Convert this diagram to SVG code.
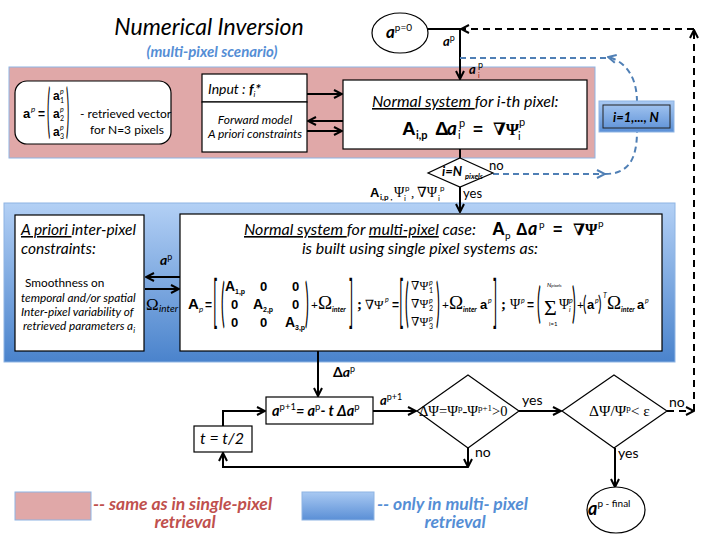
<svg xmlns="http://www.w3.org/2000/svg" width="703" height="535" viewBox="0 0 703 535">
<defs>
<linearGradient id="blueGrad" x1="0" y1="0" x2="0" y2="1">
<stop offset="0" stop-color="#b3d0f5"/>
<stop offset="1" stop-color="#4a83cc"/>
</linearGradient>
<linearGradient id="blueGrad2" x1="0" y1="0" x2="0" y2="1">
<stop offset="0" stop-color="#a9c9f2"/>
<stop offset="1" stop-color="#5a8fd6"/>
</linearGradient>
<marker id="arr" viewBox="0 0 10 10" refX="9" refY="5" markerWidth="10" markerHeight="10" markerUnits="userSpaceOnUse" orient="auto">
<path d="M1,1 L9,5 L1,9" fill="none" stroke="#000" stroke-width="2"/>
</marker>
<marker id="arrB" viewBox="0 0 10 10" refX="9" refY="5" markerWidth="10" markerHeight="10" markerUnits="userSpaceOnUse" orient="auto">
<path d="M1,1 L9,5 L1,9" fill="none" stroke="#4f7fb5" stroke-width="2"/>
</marker>
</defs>
<style>
text{font-family:Lato,"Open Sans","Liberation Sans",sans-serif;fill:#000}
.it{font-style:italic}
.b{font-weight:bold}
.m{font-family:"Liberation Sans",Arial,sans-serif;font-weight:bold}
.g{font-family:"Liberation Serif","DejaVu Serif",serif}
.box{fill:#fff;stroke:#000;stroke-width:1.2}
.ln{fill:none;stroke:#000;stroke-width:2}
.dk{fill:none;stroke:#000;stroke-width:2;stroke-dasharray:7 5}
.db{fill:none;stroke:#4f7fb5;stroke-width:2;stroke-dasharray:6 4}
.u{text-decoration:underline}
</style>
<rect width="703" height="535" fill="#fff"/>

<!-- title -->
<g id="title">
<text x="209" y="35" class="it" font-size="23" text-anchor="middle">Numerical Inversion</text>
<text x="212" y="57" class="it b" font-size="15" text-anchor="middle" style="fill:#558ed5">(multi-pixel scenario)</text>
</g>

<!-- background bands -->
<g id="single-pixel-band">
<rect x="9" y="67" width="586" height="91" fill="#e0a8a8" stroke="#8eb4e3" stroke-width="1"/>
</g>
<g id="multi-pixel-band">
<rect x="4" y="203" width="671" height="159" fill="url(#blueGrad)" stroke="#8eb4e3" stroke-width="1"/>
</g>

<!-- connectors -->
<g id="connectors">
<path class="ln" d="M427,29 H460 V79" marker-end="url(#arr)"/>
<path class="ln" d="M307,94 H342" marker-end="url(#arr)"/>
<path class="ln" d="M344,121 H308" marker-end="url(#arr)"/>
<path class="ln" d="M307,131 H342" marker-end="url(#arr)"/>
<path class="ln" d="M460,149 V159"/>
<path class="ln" d="M460,187 V212" marker-end="url(#arr)"/>
<path class="ln" d="M180,277 H146" marker-end="url(#arr)"/>
<path class="ln" d="M145,289 H179" marker-end="url(#arr)"/>
<path class="ln" d="M318,351 V396" marker-end="url(#arr)"/>
<path class="ln" d="M373,411 H416" marker-end="url(#arr)"/>
<path class="ln" d="M519,411 H561" marker-end="url(#arr)"/>
<path class="ln" d="M468,448 V467" marker-end="url(#arr)"/>
<path class="ln" d="M468,467 H223 V453" marker-end="url(#arr)"/>
<path class="ln" d="M223,426 V411 H265" marker-end="url(#arr)"/>
<path class="ln" d="M615,448 V487" marker-end="url(#arr)"/>
<path class="dk" d="M667,411 H694" marker-end="url(#arr)"/>
<path class="dk" d="M694,411 V30" marker-end="url(#arr)"/>
<path class="dk" d="M694,29 H461" marker-end="url(#arr)"/>
<path class="db" d="M460,58 H607"/>
<path class="db" d="M637,102 C637,80 628,62 608,57" marker-end="url(#arrB)"/>
<path class="db" d="M493,174 H605" marker-end="url(#arrB)"/>
<path class="db" d="M605,174 C628,174 637,160 637,131"/>
<text x="443" y="46" class="it b" font-size="13">a<tspan font-size="9" font-weight="normal" font-style="normal" dy="-5">p</tspan></text>
<text x="469" y="74" class="it b" font-size="13">a</text>
<text x="478" y="68" font-size="9">p</text>
<text x="478" y="78" font-size="7" style="fill:#800">i</text>
<text x="489" y="170" font-size="13">no</text>
<text x="463" y="198" font-size="13">yes</text>
<text x="370" y="197" class="m" font-size="13">A</text>
<text x="380" y="200" font-size="8" class="b">i,p ,</text>
<text x="394" y="197" class="g" font-size="14">Ψ</text>
<text x="405" y="191" font-size="8">p</text>
<text x="404" y="201" font-size="8">i</text>
<text x="411" y="197" class="g" font-size="13">,</text>
<text x="417" y="197" class="g" font-size="14">∇Ψ</text>
<text x="440" y="191" font-size="8">p</text>
<text x="438" y="201" font-size="8">i</text>
<text x="160" y="265" class="it b" font-size="14">a<tspan font-size="9" font-weight="normal" font-style="normal" dy="-5">p</tspan></text>
<text x="146" y="310" class="g" font-size="17">Ω</text>
<text x="159" y="312" class="it" font-size="10">inter</text>
<text x="333" y="377" class="b" font-size="14">Δ<tspan class="it">a</tspan><tspan font-size="9" font-weight="normal" dy="-5">p</tspan></text>
<text x="380" y="405" class="it b" font-size="13">a<tspan font-size="9" font-weight="normal" font-style="normal" dy="-5">p+1</tspan></text>
<text x="522" y="405" font-size="14">yes</text>
<text x="475" y="457" font-size="14">no</text>
<text x="669" y="407" font-size="14">no</text>
<text x="618" y="458" font-size="14">yes</text>
</g>

<!-- nodes -->
<g id="start">
<ellipse cx="400" cy="33" rx="28" ry="20" class="box"/>
<text x="386" y="38" class="it b" font-size="17">a<tspan font-size="10" font-weight="normal" font-style="normal" dy="-7">p=0</tspan></text>
</g>

<g id="retrieved-vector">
<rect x="15" y="81" width="156" height="63" rx="12" class="box"/>
<text x="23" y="118" class="m" font-size="13">a</text>
<text x="31" y="112" class="it" font-size="8">p</text>
<text x="38" y="118" class="m" font-size="12">=</text>
<text transform="translate(47,131) scale(1,4.8)" font-family="Liberation Sans" font-size="12">(</text>
<text transform="translate(66,131) scale(1,4.8)" font-family="Liberation Sans" font-size="12">)</text>
<text x="53" y="100" class="m" font-size="12">a</text>
<text x="60" y="94" class="it" font-size="7">p</text>
<text x="60" y="103" font-size="7">1</text>
<text x="53" y="118" class="m" font-size="12">a</text>
<text x="60" y="112" class="it" font-size="7">p</text>
<text x="60" y="121" font-size="7">2</text>
<text x="53" y="136" class="m" font-size="12">a</text>
<text x="60" y="130" class="it" font-size="7">p</text>
<text x="60" y="139" font-size="7">3</text>
<text x="80" y="118" font-size="12">- retrieved vector</text>
<text x="90" y="134" font-size="12">for N=3 pixels</text>
</g>

<g id="input">
<rect x="202" y="74" width="105" height="28" class="box"/>
<text x="208" y="94" class="it" font-size="14">Input : <tspan class="b">f</tspan><tspan font-size="8" dy="3">i</tspan><tspan class="b" dy="-3">*</tspan></text>
</g>
<g id="forward-model">
<rect x="202" y="102" width="105" height="50" class="box"/>
<text x="255" y="124" class="it" font-size="12" text-anchor="middle">Forward model</text>
<text x="255" y="138" class="it" font-size="12" text-anchor="middle">A priori constraints</text>
</g>

<g id="normal-single">
<rect x="343" y="80" width="244" height="69" class="box"/>
<text x="372" y="107" class="it" font-size="16"><tspan class="u">Normal system </tspan>for  i-th pixel:</text>
<text x="402" y="135" class="m" font-size="19">A</text>
<text x="416" y="139" class="b" font-size="11">i,p</text>
<text x="435" y="135" class="m" font-size="19">Δ</text>
<text x="447" y="135" class="b it" font-size="19">a</text>
<text x="459" y="127" font-size="11">p</text>
<text x="458" y="139" font-size="11">i</text>
<text x="473" y="135" class="m" font-size="17">=</text>
<text x="493" y="135" class="g b" font-size="17">∇Ψ</text>
<text x="519" y="126" font-size="11">p</text>
<text x="518" y="140" font-size="11">i</text>
</g>

<g id="loop-pixels">
<rect x="599" y="101" width="75" height="31" fill="url(#blueGrad2)" stroke="#8eb4e3" stroke-width="1"/>
<rect x="603" y="105" width="67" height="23" fill="none" stroke="#222" stroke-width="1"/>
<text x="636" y="122" class="it b" font-size="13" text-anchor="middle">i=1,..., N</text>
</g>

<g id="check-pixel">
<polygon points="460,158 493,173 460,187 428,173" class="box"/>
<text x="442" y="176" class="it b" font-size="13">i=N</text>
<text x="465" y="179" class="it b" font-size="7.5">pixels</text>
</g>

<g id="inter-pixel-constraints">
<rect x="15" y="215" width="129" height="136" class="box"/>
<text x="21" y="235" class="it" font-size="15.5"><tspan class="u">A priori </tspan> inter-pixel</text>
<text x="21" y="254" class="it" font-size="15.5">constraints:</text>
<text x="25" y="287" font-size="11.8">Smoothness on</text>
<text x="21" y="302" class="it" font-size="11.8">temporal and/or spatial</text>
<text x="21" y="316" class="it" font-size="11.8">Inter-pixel variability of</text>
<text x="23" y="330" class="it" font-size="11.8">retrieved parameters a<tspan font-size="8" dy="3">i</tspan></text>
</g>

<g id="normal-multi">
<rect x="180" y="214" width="482" height="137" class="box"/>
<text x="244" y="235" class="it" font-size="16"><tspan class="u">Normal system </tspan>for  <tspan class="u">multi-pixel</tspan> case:</text>
<text x="492" y="235" class="m" font-size="18">A</text>
<text x="505" y="239" font-size="10">p</text>
<text x="516" y="235" class="m" font-size="16">Δ</text>
<text x="528" y="235" class="b it" font-size="18">a</text>
<text x="539" y="228" font-size="10">p</text>
<text x="553" y="235" class="m" font-size="16">=</text>
<text x="573" y="235" class="g b" font-size="16">∇Ψ</text>
<text x="598" y="227" font-size="10">p</text>
<text x="420" y="254" class="it" font-size="16" text-anchor="middle">is built using single pixel systems as:</text>

<!-- A_p -->
<text x="188" y="309" class="m" font-size="15">A</text>
<text x="199" y="312" class="it" font-size="8">p</text>
<text x="205" y="309" class="m" font-size="12">=</text>
<text transform="translate(213,321) scale(1,4)" font-family="Liberation Sans" font-size="14">[</text>
<text transform="translate(221,321) scale(1,3.8)" font-family="Liberation Sans" font-size="14">(</text>
<text x="225" y="291" class="m" font-size="14">A</text>
<text x="235" y="294" class="m" font-size="7">1,p</text>
<text x="260" y="291" class="m" font-size="13">0</text>
<text x="292" y="291" class="m" font-size="13">0</text>
<text x="231" y="309" class="m" font-size="13">0</text>
<text x="253" y="309" class="m" font-size="14">A</text>
<text x="263" y="312" class="m" font-size="7">2,p</text>
<text x="292" y="309" class="m" font-size="13">0</text>
<text x="231" y="327" class="m" font-size="13">0</text>
<text x="260" y="327" class="m" font-size="13">0</text>
<text x="285" y="327" class="m" font-size="14">A</text>
<text x="295" y="330" class="m" font-size="7">3,p</text>
<text transform="translate(305,321) scale(1,3.8)" font-family="Liberation Sans" font-size="14">)</text>
<text x="311" y="309" font-family="Liberation Sans" font-size="12">+</text>
<text x="318" y="309" class="g" font-size="19">Ω</text>
<text x="332" y="312" class="it b" font-size="7">inter</text>
<text transform="translate(349,321) scale(1,4)" font-family="Liberation Sans" font-size="14">]</text>
<text x="357" y="309" class="g b" font-size="15">;</text>

<!-- grad psi -->
<text x="365" y="309" class="g" font-size="13">∇Ψ</text>
<text x="385" y="302" class="it" font-size="7">p</text>
<text x="392" y="309" class="m" font-size="12">=</text>
<text transform="translate(399,321) scale(1,4)" font-family="Liberation Sans" font-size="14">[</text>
<text transform="translate(405,321) scale(1,3.8)" font-family="Liberation Sans" font-size="14">(</text>
<text x="411" y="290" class="g" font-size="12">∇Ψ</text>
<text x="429" y="285" class="it" font-size="7">p</text>
<text x="429" y="293" font-size="7">1</text>
<text x="411" y="308" class="g" font-size="12">∇Ψ</text>
<text x="429" y="303" class="it" font-size="7">p</text>
<text x="429" y="311" font-size="7">2</text>
<text x="411" y="326" class="g" font-size="12">∇Ψ</text>
<text x="429" y="321" class="it" font-size="7">p</text>
<text x="429" y="329" font-size="7">3</text>
<text transform="translate(436,321) scale(1,3.8)" font-family="Liberation Sans" font-size="14">)</text>
<text x="442" y="309" font-family="Liberation Sans" font-size="12">+</text>
<text x="449" y="309" class="g" font-size="19">Ω</text>
<text x="463" y="312" class="it b" font-size="7">inter</text>
<text x="480" y="309" class="m" font-size="13">a</text>
<text x="488" y="303" class="it" font-size="7">p</text>
<text transform="translate(493,321) scale(1,4)" font-family="Liberation Sans" font-size="14">]</text>
<text x="501" y="309" class="g b" font-size="15">;</text>

<!-- psi -->
<text x="510" y="309" class="g" font-size="14">Ψ</text>
<text x="521" y="303" class="it" font-size="7">p</text>
<text x="527" y="309" class="m" font-size="12">=</text>
<text transform="translate(537,318) scale(1,3)" font-family="Liberation Sans" font-size="14">(</text>
<text x="547" y="287" class="it" font-size="6">N<tspan font-size="4.5">pixels</tspan></text>
<text x="544" y="315" class="g" font-size="22">Σ</text>
<text x="549" y="326" font-size="6">i=1</text>
<text x="559" y="309" class="g" font-size="14">Ψ</text>
<text x="569" y="303" class="it" font-size="7">p</text>
<text x="569" y="312" class="it" font-size="7">i</text>
<text transform="translate(572,318) scale(1,3)" font-family="Liberation Sans" font-size="14">)</text>
<text x="577" y="309" font-family="Liberation Sans" font-size="12">+</text>
<text transform="translate(583,311) scale(1,1.6)" font-family="Liberation Sans" font-size="13">(</text>
<text x="587" y="309" class="m" font-size="13">a</text>
<text x="595" y="303" class="it" font-size="7">p</text>
<text transform="translate(598,311) scale(1,1.6)" font-family="Liberation Sans" font-size="13">)</text>
<text x="603" y="298" class="it" font-size="7">T</text>
<text x="607" y="309" class="g" font-size="19">Ω</text>
<text x="621" y="312" class="it b" font-size="7">inter</text>
<text x="637" y="309" class="m" font-size="13">a</text>
<text x="645" y="303" class="it" font-size="7">p</text>
</g>

<g id="update">
<rect x="266" y="397" width="107" height="27" class="box"/>
<text x="272" y="416" class="it b" font-size="14.5">a<tspan font-size="9.5" font-weight="normal" font-style="normal" dy="-6">p+1</tspan><tspan dy="6">= a</tspan><tspan font-size="9.5" font-weight="normal" font-style="normal" dy="-6">p</tspan><tspan dy="6">- t Δa</tspan><tspan font-size="9.5" font-weight="normal" font-style="normal" dy="-6">p</tspan></text>
</g>

<g id="halve-step">
<rect x="194" y="426" width="58" height="26" class="box"/>
<text x="200" y="444" class="it" font-size="16">t = t/2</text>
</g>

<g id="check-decrease">
<polygon points="468,375 519,411 468,448 417,411" class="box"/>
<text x="419" y="416" class="g" font-size="14.5">ΔΨ=Ψ<tspan font-size="9" dy="-5">p</tspan><tspan dy="5">-Ψ</tspan><tspan font-size="9" dy="-5">p+1</tspan><tspan dy="5">&gt;0</tspan></text>
</g>

<g id="check-converge">
<polygon points="614,375 667,411 614,448 562,411" class="box"/>
<text x="589" y="416" class="g" font-size="15.5">ΔΨ/Ψ<tspan font-size="9" dy="-5">p</tspan><tspan dy="5">&lt; ε</tspan></text>
</g>

<g id="final">
<ellipse cx="616" cy="510" rx="29" ry="23" class="box"/>
<text x="588" y="515" class="it b" font-size="18">a<tspan font-size="10" font-weight="normal" font-style="normal" dy="-8">p - final</tspan></text>
</g>

<g id="legend">
<rect x="15" y="492" width="76" height="28" fill="#e0a8a8" stroke="#8eb4e3" stroke-width="1"/>
<text x="93" y="510" class="it b" font-size="17.5" style="fill:#c0504d">-- same as in single-pixel</text>
<text x="185" y="528" class="it b" font-size="17.5" text-anchor="middle" style="fill:#c0504d">retrieval</text>
<rect x="302" y="492" width="72" height="28" fill="url(#blueGrad2)" stroke="#8eb4e3" stroke-width="1"/>
<text x="377" y="510" class="it b" font-size="17.5" style="fill:#558ed5">-- only in multi- pixel</text>
<text x="455" y="528" class="it b" font-size="17.5" text-anchor="middle" style="fill:#558ed5">retrieval</text>
</g>
</svg>
